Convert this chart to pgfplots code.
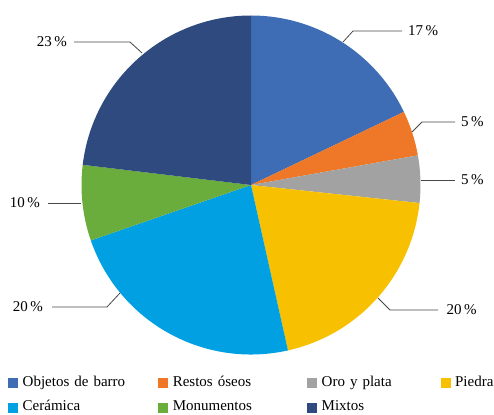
\documentclass[border=0pt]{standalone}
\usepackage{fontspec}
\setmainfont{Liberation Serif}
\usepackage{pgfplots}
\pgfplotsset{compat=1.18}

\definecolor{cBarro}{HTML}{3E6DB5}
\definecolor{cOseos}{HTML}{EE7728}
\definecolor{cOro}{HTML}{A2A2A2}
\definecolor{cPiedra}{HTML}{F7C000}
\definecolor{cCeramica}{HTML}{00A0E3}
\definecolor{cMonum}{HTML}{6AAD3D}
\definecolor{cMixtos}{HTML}{2E4A7E}
\colorlet{leader}{black!72}

% slice from cumulative share #1 to #2 (in %), clockwise from the top
\newcommand{\slice}[3]{%
  \fill[#3] (axis cs:251,230) -- ++({90-3.6*#1}:169.5bp)
    arc[start angle={90-3.6*#1}, end angle={90-3.6*#2}, radius=169.5bp] -- cycle;}

\begin{document}
\begin{tikzpicture}[font=\fontsize{15bp}{17bp}\selectfont]
  \useasboundingbox (0,0) rectangle (494bp,415bp);
  \begin{axis}[%
      at={(0,0)}, anchor=origin,
      x=1bp, y=1bp, disabledatascaling,
      xmin=0, xmax=494, ymin=0, ymax=415,
      hide axis, clip=false,
      legend columns=4,
      legend image code/.code={\fill[#1] (0bp,-4.5bp) rectangle (9bp,4.5bp);},
      legend style={draw=none, fill=none, inner sep=0pt, outer sep=0pt,
        at={(axis cs:8.3,38.5)}, anchor=north west,
        row sep=12bp,
        nodes={inner sep=0pt, text height=9.5bp, text depth=3bp},
        /tikz/every odd column/.style={column sep=5bp},
        /tikz/column 2/.style={text width=135.7bp},
        /tikz/column 4/.style={text width=134.5bp},
        /tikz/column 6/.style={text width=119bp},
        font=\fontsize{15bp}{17bp}\selectfont},
    ]
    % shares (%): 17.9, 4.3, 4.5, 19.8, 23.2, 7.2, 23.1
    \slice{0}{17.9}{cBarro}
    \slice{17.9}{22.2}{cOseos}
    \slice{22.2}{26.7}{cOro}
    \slice{26.7}{46.5}{cPiedra}
    \slice{46.5}{69.7}{cCeramica}
    \slice{69.7}{76.9}{cMonum}
    \slice{76.9}{100}{cMixtos}

    % leader lines and labels
    \draw[leader, line width=0.8bp] (axis cs:343,373) -- (axis cs:353,384) -- (axis cs:402,384);
    \node[anchor=west, inner sep=0pt] at (axis cs:408,384) {17\,\%};
    \draw[leader, line width=0.8bp] (axis cs:412,283) -- (axis cs:422,293) -- (axis cs:455,293);
    \node[anchor=west, inner sep=0pt] at (axis cs:461,293) {5\,\%};
    \draw[leader, line width=0.8bp] (axis cs:421,235) -- (axis cs:455,235);
    \node[anchor=west, inner sep=0pt] at (axis cs:461,235) {5\,\%};
    \draw[leader, line width=0.8bp] (axis cs:378,117) -- (axis cs:390,105) -- (axis cs:438,105);
    \node[anchor=west, inner sep=0pt] at (axis cs:446.5,105) {20\,\%};
    \draw[leader, line width=0.8bp] (axis cs:120,122) -- (axis cs:107,108) -- (axis cs:52,108);
    \node[anchor=east, inner sep=0pt] at (axis cs:43,108) {20\,\%};
    \draw[leader, line width=0.8bp] (axis cs:81,212) -- (axis cs:48,212);
    \node[anchor=east, inner sep=0pt] at (axis cs:40,212) {10\,\%};
    \draw[leader, line width=0.8bp] (axis cs:142,362) -- (axis cs:130,373) -- (axis cs:74,373);
    \node[anchor=east, inner sep=0pt] at (axis cs:67,373) {23\,\%};

    \addlegendimage{cBarro}\addlegendentry{Objetos de barro}
    \addlegendimage{cOseos}\addlegendentry{Restos óseos}
    \addlegendimage{cOro}\addlegendentry{Oro y plata}
    \addlegendimage{cPiedra}\addlegendentry{Piedra}
    \addlegendimage{cCeramica}\addlegendentry{Cerámica}
    \addlegendimage{cMonum}\addlegendentry{Monumentos}
    \addlegendimage{cMixtos}\addlegendentry{Mixtos}
  \end{axis}
\end{tikzpicture}
\end{document}
